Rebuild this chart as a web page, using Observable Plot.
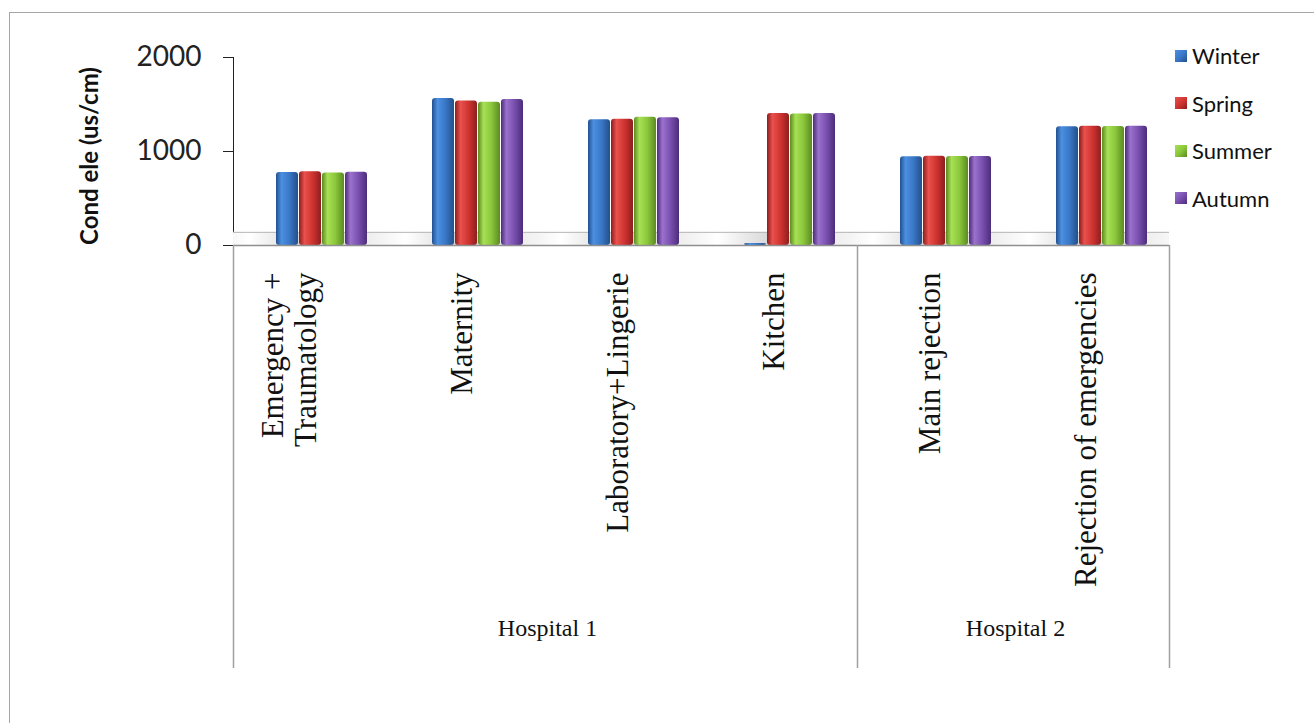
<!DOCTYPE html>
<html>
<head>
<meta charset="utf-8">
<script src="https://cdn.jsdelivr.net/npm/d3@7"></script>
<script src="https://cdn.jsdelivr.net/npm/@observablehq/plot@0.6"></script>
<style>
  body { margin: 0; background: #fff; }
  #wrap { position: relative; width: 1314px; height: 723px; overflow: hidden; background: #fff; }
  #border { position: absolute; left: 9px; top: 12px; width: 1400px; height: 800px;
            border-top: 1.5px solid #a6a6a6; border-left: 1.5px solid #a6a6a6; }
  #chart { position: absolute; left: 0; top: 0; }
  #ylabel { position: absolute; left: 88px; top: 156px; transform: translate(-50%, -50%) rotate(-90deg);
            font: bold 24px Lato, sans-serif; color: #111; white-space: nowrap; }
  #legend { position: absolute; left: 1175px; top: 32px; font: 22px Lato, sans-serif; color: #111; }
  .item { display: flex; align-items: center; height: 47.5px; }
  .sw { width: 12px; height: 12px; margin-right: 5px; }
</style>
</head>
<body>
<div id="wrap">
  <div id="border"></div>
  <div id="chart"></div>
  <div id="ylabel">Cond ele (us/cm)</div>
  <div id="legend"></div>
</div>
<script>
// ---------- data ----------
const categories = ["Emergency +\nTraumatology", "Maternity", "Laboratory+Lingerie", "Kitchen", "Main rejection", "Rejection of emergencies"];
const hospitalOf = ["Hospital 1", "Hospital 1", "Hospital 1", "Hospital 1", "Hospital 2", "Hospital 2"];
const hospitals = ["Hospital 1", "Hospital 2"];
const seasons = ["Winter", "Spring", "Summer", "Autumn"];
const winter = [777, 1564, 1338, 20, 945, 1264];
const spring = [785, 1537, 1342, 1404, 950, 1268];
const summer = [772, 1525, 1365, 1400, 948, 1266];
const autumn = [780, 1553, 1360, 1404, 948, 1268];
const yTicks = [0, 1000, 2000];

// ---------- styles / layout ----------
const colors = {
  Winter: ["#21508f", "#4c8fe0", "#3a78c8", "#244f8a"],
  Spring: ["#8e1c1c", "#e8514d", "#d13431", "#8e1f1f"],
  Summer: ["#5a8a1f", "#a8e055", "#8cc83c", "#5c8a22"],
  Autumn: ["#4d2c78", "#9a72cc", "#7a50b0", "#4c2d7a"]
};
const W = 1314, H = 723, ML = 233, MR = 145, MT = 57, MB = 478;
const bw = (W - ML - MR) / categories.length;
const FLOOR = 140;     // depth of the 3-D floor, in y units
const DROP = -4500;    // lower end of the category frame lines, in y units

const series = [winter, spring, summer, autumn];
const rows = categories.flatMap((c, i) => seasons.map((s, j) => ({cat: c, season: s, value: series[j][i]})));

const groups = hospitals.map(h => {
  const members = categories.filter((c, i) => hospitalOf[i] === h);
  return {name: h, first: members[0], last: members[members.length - 1],
          anchor: members[Math.floor(members.length / 2)], even: members.length % 2 === 0};
});
const leftSeps = groups.map(g => g.first);
const rightSeps = [groups[groups.length - 1].last];

const plot = Plot.plot({
  width: W, height: H,
  marginLeft: ML, marginRight: MR, marginTop: MT, marginBottom: MB,
  style: {fontFamily: "Lato, sans-serif", fontSize: "28px", color: "#222", background: "transparent", overflow: "visible"},
  fx: {domain: categories, padding: 0, axis: null, label: null},
  x: {domain: seasons, paddingInner: 0.04, paddingOuter: 1.37, align: 0.66, axis: null},
  y: {domain: [0, 2000], ticks: yTicks, tickSize: 10, tickPadding: 22, label: null, line: true, tickFormat: d => String(d)},
  marks: [
    Plot.rect([0], {y1: 0, y2: FLOOR, fill: "url(#floorGrad)"}),
    Plot.ruleY([FLOOR], {stroke: "#b5b5b5", strokeWidth: 1}),
    ...seasons.map(s => Plot.barY(rows.filter(r => r.season === s), {
      fx: "cat", x: "season", y: "value", fill: `url(#g${s})`, rx: 3
    })),
    Plot.ruleY([0], {stroke: "#8f8f8f", strokeWidth: 1.5}),
    Plot.ruleX(leftSeps, {fx: d => d, x: null, y1: 0, y2: DROP, dx: -bw / 2, stroke: "#a0a0a0", strokeWidth: 1.5}),
    Plot.ruleX(rightSeps, {fx: d => d, x: null, y1: 0, y2: DROP, dx: bw / 2, stroke: "#a0a0a0", strokeWidth: 1.5}),
    Plot.text(categories, {fx: d => d, text: d => d, frameAnchor: "bottom", rotate: -90, textAnchor: "end",
      dx: 4, dy: 27, fontSize: 31, fontFamily: "Liberation Serif, serif", fill: "#111", lineHeight: 1.05}),
    Plot.text(groups.filter(g => g.even), {fx: "anchor", text: "name", frameAnchor: "bottom", dx: -bw / 2 + 2, dy: 390,
      fontSize: 24, fontFamily: "Liberation Serif, serif", fill: "#111"}),
    Plot.text(groups.filter(g => !g.even), {fx: "anchor", text: "name", frameAnchor: "bottom", dy: 390,
      fontSize: 24, fontFamily: "Liberation Serif, serif", fill: "#111"})
  ]
});

const defs = seasons.map(s => {
  const [a, b, c, d] = colors[s];
  return `<linearGradient id="g${s}" x1="0" x2="1" y1="0" y2="0">
    <stop offset="0" stop-color="${a}"/><stop offset="0.25" stop-color="${b}"/>
    <stop offset="0.6" stop-color="${c}"/><stop offset="1" stop-color="${d}"/></linearGradient>`;
}).join("") + `<linearGradient id="floorGrad" x1="0" x2="156" y1="0" y2="0" spreadMethod="repeat" gradientUnits="userSpaceOnUse">
  <stop offset="0" stop-color="#d8d8d8"/><stop offset="0.45" stop-color="#f4f4f4"/><stop offset="0.6" stop-color="#ffffff"/><stop offset="1" stop-color="#cfcfcf"/></linearGradient>`;
const svgEl = plot.tagName.toLowerCase() === "svg" ? plot : plot.querySelector("svg");
d3.select(svgEl).insert("defs", ":first-child").html(defs);
d3.select(svgEl).selectAll('[aria-label="y-axis tick"], [aria-label="y-axis"] path, [aria-label="y-axis line"]').attr("stroke", "#8f8f8f");
document.getElementById("chart").appendChild(plot);

// legend
const legend = d3.select("#legend");
seasons.forEach(s => {
  const it = legend.append("div").attr("class", "item");
  it.append("div").attr("class", "sw")
    .style("background", `linear-gradient(135deg, ${colors[s][1]}, ${colors[s][2]} 50%, ${colors[s][0]})`);
  it.append("span").text(s);
});
</script>
</body>
</html>
